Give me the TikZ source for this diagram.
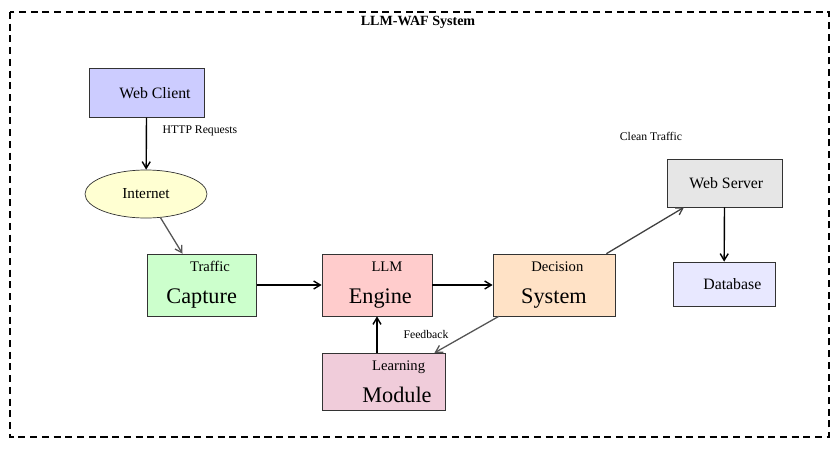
\documentclass[tikz,border=0pt]{standalone}
\usepackage{fontspec}
\setmainfont{Liberation Serif}
\usetikzlibrary{arrows.meta, shapes.geometric}
\usepackage{xcolor}
\definecolor{clientblue}{HTML}{CCCCFF}
\definecolor{netyellow}{HTML}{FFFFD2}
\definecolor{capgreen}{HTML}{CCFFCC}
\definecolor{enginepink}{HTML}{FFCCCC}
\definecolor{decpeach}{HTML}{FFE2C6}
\definecolor{servergrey}{HTML}{E6E6E6}
\definecolor{dblavender}{HTML}{E8E8FF}
\definecolor{learnrose}{HTML}{F0CCDA}
\definecolor{edgegrey}{HTML}{555555}
\newcommand{\twoline}[2]{\fontsize{12.5}{14}\selectfont #1\\[11pt]\fontsize{19}{22}\selectfont #2}

\begin{document}
\begin{tikzpicture}[
      block/.style={rectangle, draw=black!80, line width=0.6pt, align=center, text=black, font=\fontsize{13.5}{16}\selectfont},
      cloud/.style={ellipse, draw=black!80, line width=0.6pt, fill=netyellow, minimum width=3.66cm, minimum height=1.44cm, inner sep=0pt, font=\fontsize{13}{16}\selectfont},
      note/.style={font=\fontsize{10}{12}\selectfont},
      arrow/.style={-{Straight Barb[length=2mm, width=2.4mm]}, line width=1.2pt, black},
      greyarrow/.style={-{Straight Barb[length=2mm, width=2.4mm]}, line width=1.1pt, edgegrey},
    ]
    \useasboundingbox (0,0) rectangle (25.11,-13.5);
    \draw[line width=1.3pt, dash pattern=on 6pt off 4pt] (0.3,-0.36) rectangle (24.87,-13.11);
    \node[font=\bfseries\fontsize{12}{14}\selectfont] (title) at (12.54,-0.66) {LLM-WAF System};

    \node[block, fill=clientblue, minimum width=3.45cm, minimum height=1.47cm] (wc) at (4.40,-2.78) {\hspace*{0.5cm}Web Client};
    \node[cloud] (inet) at (4.38,-5.82) {Internet};
    \node[block, fill=capgreen, minimum width=3.27cm, minimum height=1.86cm] (cap) at (6.05,-8.55) {\twoline{\hspace*{0.5cm}Traffic}{Capture}};
    \node[block, fill=enginepink, minimum width=3.3cm, minimum height=1.86cm] (eng) at (11.31,-8.55) {\twoline{\hspace*{0.6cm}LLM}{\hspace*{0.2cm}Engine}};
    \node[block, fill=decpeach, minimum width=3.66cm, minimum height=1.86cm] (dec) at (16.62,-8.55) {\twoline{\hspace*{0.2cm}Decision}{System}};
    \node[block, fill=servergrey, minimum width=3.45cm, minimum height=1.44cm] (ws) at (21.74,-5.49) {\hspace*{0.1cm}Web Server};
    \node[block, fill=dblavender, minimum width=3.06cm, minimum height=1.32cm] (db) at (21.72,-8.52) {\hspace*{0.5cm}Database};
    \node[block, fill=learnrose, minimum width=3.69cm, minimum height=1.71cm] (lm) at (11.51,-11.45) {\twoline{\hspace*{0.9cm}Learning}{\hspace*{0.8cm}Module}};

    \node[note] (http) at (6.0,-3.93) {HTTP Requests};
    \node[note] (clean) at (19.53,-4.08) {Clean Traffic};
    \node[note] (fb) at (12.78,-10.02) {Feedback};

    \draw[arrow] (wc) -- (inet);
    \draw[greyarrow] (inet) -- (cap);
    \draw[arrow] (cap) -- (eng);
    \draw[arrow] (eng) -- (dec);
    \draw[greyarrow, black!75] (dec) -- (ws);
    \draw[arrow] (ws) -- (db);
    \draw[greyarrow] (dec) -- (lm);
    \draw[arrow] (lm.north -| eng.south) -- (eng.south);
  \end{tikzpicture}
\end{document}
